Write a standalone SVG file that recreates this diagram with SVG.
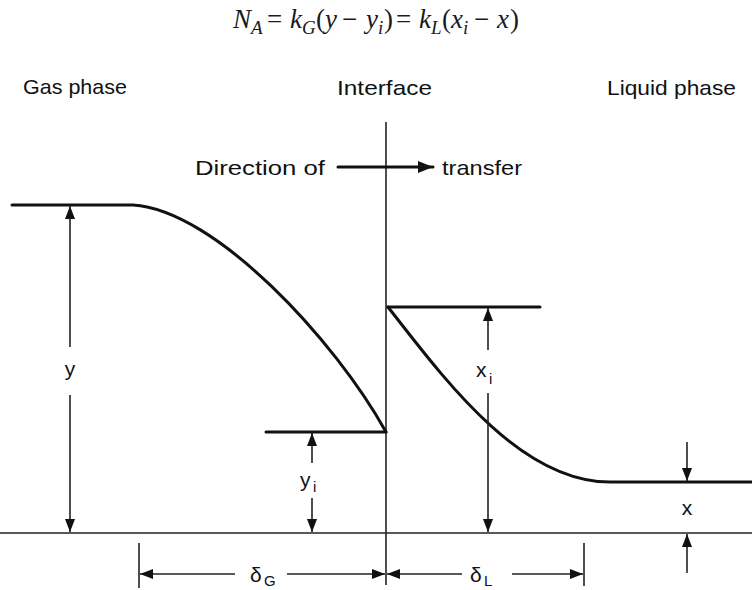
<svg xmlns="http://www.w3.org/2000/svg" width="752" height="590" viewBox="0 0 752 590">
<style>
.lbl{font-family:"Liberation Sans","DejaVu Sans",sans-serif;font-size:21px;fill:#111}
.sub{font-family:"Liberation Sans","DejaVu Sans",sans-serif;font-size:15px;fill:#111}
.eq{font-family:"Liberation Serif","Times New Roman",serif;font-style:italic;font-size:27px;fill:#1a1a1a}
.eqs{font-family:"Liberation Serif","Times New Roman",serif;font-style:italic;font-size:19px;fill:#1a1a1a}
.eqn{font-family:"Liberation Serif","Times New Roman",serif;font-size:27px;fill:#1a1a1a}
.thick{stroke:#111;stroke-width:3;fill:none;stroke-linecap:round}
.thin{stroke:#222;stroke-width:1.6;fill:none}
.dim{stroke:#222;stroke-width:1.6;fill:none}
</style>
<defs>
<marker id="ah" markerUnits="userSpaceOnUse" markerWidth="14" markerHeight="10" refX="13" refY="5" orient="auto">
<path d="M0,0 L13,5 L0,10 Z" fill="#111"/>
</marker>
<marker id="ahBig" markerUnits="userSpaceOnUse" markerWidth="16" markerHeight="12" refX="15" refY="6" orient="auto">
<path d="M0,0 L15,6 L0,12 Z" fill="#111"/>
</marker>
</defs>

<g id="equation">
<text class="eq" x="233" y="28">N</text>
<text class="eqs" x="251" y="34">A</text>
<text class="eqn" x="267" y="28">=</text>
<text class="eq" x="290" y="28">k</text>
<text class="eqs" x="302" y="34">G</text>
<text class="eqn" x="316" y="28">(</text>
<text class="eq" x="325" y="28">y</text>
<text class="eqn" x="342" y="28">−</text>
<text class="eq" x="366" y="28">y</text>
<text class="eqs" x="378" y="34">i</text>
<text class="eqn" x="384" y="28">)</text>
<text class="eqn" x="396" y="28">=</text>
<text class="eq" x="419" y="28">k</text>
<text class="eqs" x="431" y="34">L</text>
<text class="eqn" x="442" y="28">(</text>
<text class="eq" x="451" y="28">x</text>
<text class="eqs" x="463" y="34">i</text>
<text class="eqn" x="474" y="28">−</text>
<text class="eq" x="497" y="28">x</text>
<text class="eqn" x="510" y="28">)</text>
</g>

<g id="headers">
<text class="lbl" x="23" y="94" textLength="104" lengthAdjust="spacingAndGlyphs">Gas phase</text>
<text class="lbl" x="337" y="95" textLength="95" lengthAdjust="spacingAndGlyphs">Interface</text>
<text class="lbl" x="607" y="95" textLength="129" lengthAdjust="spacingAndGlyphs">Liquid phase</text>
</g>

<g id="direction">
<text class="lbl" x="195" y="175" textLength="130" lengthAdjust="spacingAndGlyphs">Direction of</text>
<text class="lbl" x="442" y="175" textLength="80" lengthAdjust="spacingAndGlyphs">transfer</text>
</g>

<g id="interface">
<line class="thin" x1="386" y1="122" x2="386" y2="585"/>
</g>

<g id="baseline">
<line class="thin" x1="0" y1="533" x2="752" y2="533" stroke-width="2"/>
</g>

<g id="gas-profile">
<path class="thick" d="M12,205 L133,205 C215,210 335,340 386,432"/>
<line class="thick" x1="266" y1="432" x2="386" y2="432"/>
</g>

<g id="liquid-profile">
<path class="thick" d="M388,307 C445,380 520,482 610,482 L752,482"/>
<line class="thick" x1="388" y1="307" x2="540" y2="307"/>
</g>

<g id="labels">
<text class="lbl" x="70" y="376" text-anchor="middle">y</text>
<text class="lbl" x="476" y="377">x</text>
<text class="sub" x="489" y="384">i</text>
<text class="lbl" x="300" y="487">y</text>
<text class="sub" x="313" y="492">i</text>
<text class="lbl" x="687" y="515" text-anchor="middle">x</text>
<text class="lbl" x="250" y="582">δ</text>
<text class="sub" x="264" y="586">G</text>
<text class="lbl" x="470" y="582">δ</text>
<text class="sub" x="484" y="586">L</text>
</g>

<g id="connectors">
<line class="thick" x1="338" y1="167" x2="433" y2="167" marker-end="url(#ahBig)"/>
<line class="dim" x1="70" y1="347" x2="70" y2="206" marker-end="url(#ah)"/>
<line class="dim" x1="70" y1="395" x2="70" y2="532" marker-end="url(#ah)"/>
<line class="dim" x1="488" y1="350" x2="488" y2="308" marker-end="url(#ah)"/>
<line class="dim" x1="488" y1="393" x2="488" y2="532" marker-end="url(#ah)"/>
<line class="dim" x1="312" y1="463" x2="312" y2="433" marker-end="url(#ah)"/>
<line class="dim" x1="312" y1="498" x2="312" y2="532" marker-end="url(#ah)"/>
<line class="dim" x1="687" y1="442" x2="687" y2="481" marker-end="url(#ah)"/>
<line class="dim" x1="687" y1="573" x2="687" y2="534" marker-end="url(#ah)"/>
<line class="dim" x1="139" y1="543" x2="139" y2="588"/>
<line class="dim" x1="584" y1="543" x2="584" y2="586"/>
<line class="dim" x1="235" y1="574" x2="140" y2="574" marker-end="url(#ah)"/>
<line class="dim" x1="287" y1="574" x2="385" y2="574" marker-end="url(#ah)"/>
<line class="dim" x1="462" y1="574" x2="387" y2="574" marker-end="url(#ah)"/>
<line class="dim" x1="512" y1="574" x2="583" y2="574" marker-end="url(#ah)"/>
</g>
</svg>
